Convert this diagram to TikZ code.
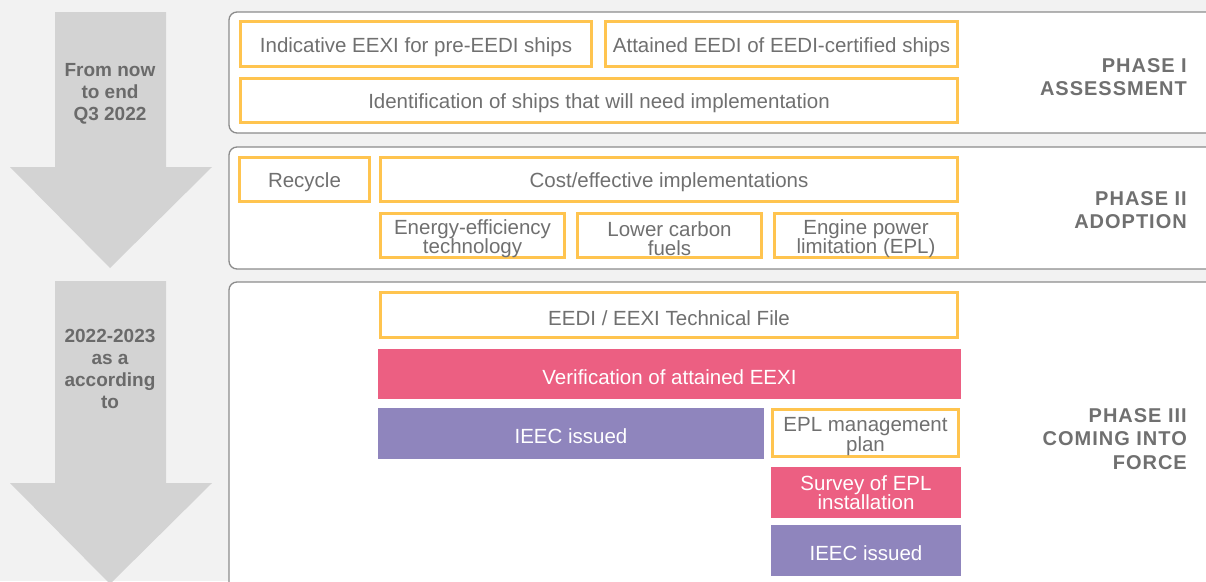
\documentclass[tikz,border=0pt]{standalone}
\usepackage{fontspec}
\setmainfont{Liberation Sans}
\definecolor{bg}{HTML}{F2F2F2}
\definecolor{arrowgrey}{HTML}{D3D3D3}
\definecolor{panelline}{HTML}{8C8C8C}
\definecolor{txtgrey}{HTML}{707070}
\definecolor{ylw}{HTML}{FFC44F}
\definecolor{pinkc}{HTML}{EC5F82}
\definecolor{purp}{HTML}{8F85BD}
\newcommand\tstrut{\rule{0pt}{21pt}}
\tikzset{
  boxbase/.style={inner sep=0pt, align=center, font=\fontsize{20.5}{19.5}\selectfont,
    execute at begin node={\tstrut}},
  ybox/.style={boxbase, draw=ylw, line width=3pt, fill=white, text=txtgrey},
  pbox/.style={boxbase, fill=pinkc, text=white},
  ubox/.style={boxbase, fill=purp, text=white},
  panel/.style={draw=panelline, line width=1.3pt, fill=white, rounded corners=8pt},
  phase/.style={anchor=east, align=right, text=txtgrey, inner sep=0pt,
    font=\fontsize{20}{23.5}\selectfont\bfseries\addfontfeatures{LetterSpace=5}},
  when/.style={align=center, text=txtgrey!95!black, inner sep=0pt,
    font=\fontsize{19}{22}\selectfont\bfseries},
  bigarrow/.style={fill=arrowgrey, draw=none}
}
\begin{document}
\begin{tikzpicture}[x=1pt,y=-1pt]
\useasboundingbox (0,0) rectangle (1206,581);
\clip (0,0) rectangle (1206,581);
\fill[bg] (0,0) rectangle (1206,581);
% timeline arrows
\fill[bigarrow] (55,12) -- (166,12) -- (166,167) -- (212,167) -- (110,268) -- (10,167) -- (55,167) -- cycle;
\fill[bigarrow] (55,281) -- (166,281) -- (166,483) -- (212,483) -- (110,584) -- (10,483) -- (55,483) -- cycle;
\node[when] (t1) at (110,94) {From now\\to end\\Q3 2022};
\node[when] (t2) at (110,368.5) {2022-2023\\as a\\according\\to};
% phase panels
\draw[panel] (229,12) rectangle (1220,133);
\draw[panel] (229,147) rectangle (1220,269);
\draw[panel] (229,282) rectangle (1220,600);
% phase I
\node[ybox, minimum width=351pt, minimum height=45pt] (a1) at (416,44) {Indicative EEXI for pre-EEDI ships};
\node[ybox, minimum width=352pt, minimum height=45pt] (a2) at (781.5,44) {Attained EEDI of EEDI-certified ships};
\node[ybox, minimum width=717pt, minimum height=44pt] (a3) at (599,100.5) {Identification of ships that will need implementation};
\node[phase] (p1) at (1187,77) {PHASE I\\ASSESSMENT};
% phase II
\node[ybox, minimum width=130pt, minimum height=44pt] (b1) at (304.5,179.5) {Recycle};
\node[ybox, minimum width=577pt, minimum height=44pt] (b2) at (669,179.5) {Cost/effective implementations};
\node[ybox, minimum width=184pt, minimum height=44pt] (b3) at (472.5,235.5) {\tstrut Energy-efficiency\\technology};
\node[ybox, minimum width=184pt, minimum height=44pt] (b4) at (669.5,235.5) {\tstrut Lower carbon\\fuels};
\node[ybox, minimum width=183pt, minimum height=44pt] (b5) at (866,235.5) {\tstrut Engine power\\limitation (EPL)};
\node[phase] (p2) at (1187,210) {PHASE II\\ADOPTION};
% phase III
\node[ybox, minimum width=577pt, minimum height=45pt] (c1) at (669,315) {EEDI / EEXI Technical File};
\node[pbox, minimum width=583pt, minimum height=50pt] (c2) at (669.5,374) {Verification of attained EEXI};
\node[ubox, minimum width=386pt, minimum height=51pt] (c3) at (571,433.5) {IEEC issued};
\node[ybox, minimum width=186pt, minimum height=47pt] (c4) at (865.5,433) {\tstrut EPL management\\plan};
\node[pbox, minimum width=190pt, minimum height=51pt] (c5) at (866,492.5) {Survey of EPL\\installation};
\node[ubox, minimum width=190pt, minimum height=51pt] (c6) at (866,550.5) {IEEC issued};
\node[phase] (p3) at (1187,439) {PHASE III\\COMING INTO\\FORCE};
\end{tikzpicture}
\end{document}
